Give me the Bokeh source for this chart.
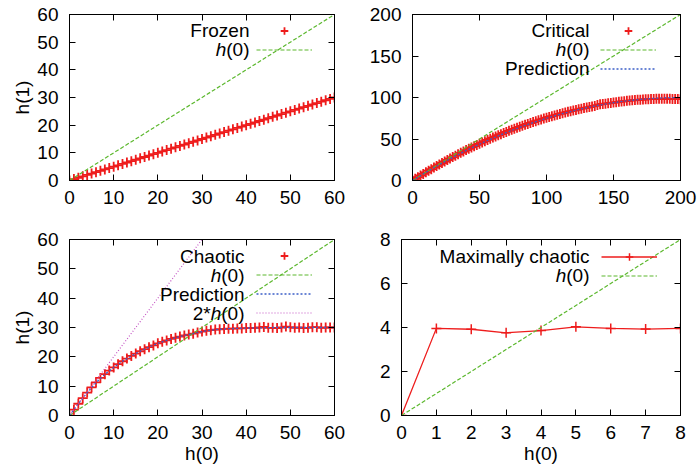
import math
from bokeh.plotting import figure
from bokeh.models import Range1d, FixedTicker, LinearAxis, Label, Legend, LegendItem
from bokeh.layouts import column, row
from bokeh.embed import file_html
from bokeh.resources import INLINE
from bokeh.core.properties import value

# ---------------- data ----------------
frozen_x = list(range(0, 61))
frozen_y = [0.0, 0.5, 1.0, 1.5, 2.0, 2.5, 3.0, 3.5, 4.0, 4.5, 5.0, 5.5, 6.0, 6.5, 7.0, 7.5,
            8.0, 8.5, 9.0, 9.5, 10.0, 10.5, 11.0, 11.5, 12.0, 12.5, 13.0, 13.5, 14.0, 14.5,
            15.0, 15.5, 16.0, 16.5, 17.0, 17.5, 18.0, 18.5, 19.0, 19.5, 20.0, 20.5, 21.0,
            21.5, 22.0, 22.5, 23.0, 23.5, 24.0, 24.5, 25.0, 25.5, 26.0, 26.5, 27.0, 27.5,
            28.0, 28.5, 29.0, 29.5, 30.0]

diag60_x = [0, 60]
diag60_y = [0, 60]
diag200_x = [0, 200]
diag200_y = [0, 200]
diag8_x = [0, 8]
diag8_y = [0, 8]
double_x = [0, 30]
double_y = [0, 60]

critical_x = list(range(0, 201, 2))
critical_y = [0.0, 2.1, 4.0, 6.0, 7.9, 9.9, 11.8, 13.7, 15.6, 17.4, 19.3, 21.1, 22.9, 24.7,
              26.4, 28.2, 29.9, 31.6, 33.3, 34.9, 36.6, 38.2, 39.8, 41.3, 42.9, 44.4, 45.9,
              47.4, 48.9, 50.3, 51.7, 53.1, 54.5, 55.8, 57.2, 58.5, 59.8, 61.0, 62.3, 63.5,
              64.7, 65.9, 67.1, 68.2, 69.3, 70.4, 71.5, 72.5, 73.6, 74.6, 75.6, 76.5, 77.5,
              78.4, 79.3, 80.2, 81.0, 81.9, 82.7, 83.5, 84.3, 85.0, 85.8, 86.5, 87.2, 87.9,
              88.5, 89.2, 89.8, 90.9, 91.8, 92.2, 92.6, 93.0, 93.5, 93.9, 94.3, 94.8, 95.2,
              95.6, 96.0, 96.3, 96.6, 96.9, 97.2, 97.4, 97.6, 97.8, 98.0, 98.1, 98.3, 98.4,
              98.4, 98.5, 98.5, 98.4, 98.4, 98.3, 98.2, 98.1, 98.0]
critical_pred_x = [0, 10, 20, 30, 40, 50, 60, 70, 80, 90, 100, 110, 120, 130, 140, 150,
                   160, 170, 180, 190, 200]
critical_pred_y = [0, 9.75, 19.0, 27.75, 36.0, 43.75, 51.0, 57.75, 64.0, 69.75, 75.0, 79.75,
                   84.0, 87.75, 91.0, 93.75, 96.0, 97.75, 99.0, 99.75, 100.0]

chaotic_x = list(range(0, 61))
chaotic_y = [0.0, 2.0, 4.0, 5.9, 7.8, 9.6, 11.3, 12.8, 14.1, 15.3, 16.4, 17.5, 18.5, 19.4,
             20.3, 21.1, 21.9, 22.6, 23.3, 23.9, 24.6, 25.1, 25.6, 26.1, 26.5, 26.9, 27.3,
             27.6, 27.9, 28.3, 28.6, 28.9, 29.1, 29.3, 29.4, 29.5, 29.6, 29.6, 29.7, 29.7,
             29.8, 29.8, 29.9, 30.0, 30.2, 29.9, 29.9, 29.8, 30.0, 30.3, 30.1, 29.9, 30.0,
             29.8, 29.9, 30.1, 30.1, 29.9, 30.0, 30.0, 30.0]
chaotic_pred_x = list(range(0, 61, 2))
chaotic_pred_y = [0.0, 4.0, 7.8, 11.2, 14.0, 16.4, 18.5, 20.3, 21.9, 23.3, 24.6, 25.6, 26.5,
                  27.3, 27.9, 28.6, 29.1, 29.4, 29.6, 29.7, 29.8, 29.9, 29.9, 30.0, 30.0,
                  30.0, 30.0, 30.0, 30.0, 30.0, 30.0]

maxchaos_x = [0, 1, 2, 3, 4, 5, 6, 7, 8]
maxchaos_y = [0.0, 3.96, 3.92, 3.76, 3.86, 4.03, 3.96, 3.93, 3.96]

ticks_60 = [0, 10, 20, 30, 40, 50, 60]
ticks_200 = [0, 50, 100, 150, 200]
ticks_x8 = [0, 1, 2, 3, 4, 5, 6, 7, 8]
ticks_y8 = [0, 2, 4, 6, 8]

# ---------------- style ----------------
FONT = "Liberation Sans"
FPX = 19
FS = "%dpx" % FPX
RED = "#ee1c1c"
GREEN = "#5cb82e"
BLUE = "#3b5fc8"
MAGENTA = "#c455c4"
ROW = 19
MS = 10
MLW = 1.8
CHAR_W = {"(": 0.333, ")": 0.333, "0": 0.556, "1": 0.556, "2": 0.556, "h": 0.556, "*": 0.389}


def text_w(s):
    return sum(CHAR_W.get(c, 0.556) for c in s) * FPX


def make_fig(width, height, xr, yr, xticks, yticks, borders, xlabel=None, ylabel=None):
    l, r, t, b = borders
    p = figure(width=width, height=height, output_backend="svg", toolbar_location=None,
               x_range=Range1d(*xr), y_range=Range1d(*yr),
               x_axis_type=None, y_axis_type=None,
               min_border_left=l, min_border_right=r, min_border_top=t, min_border_bottom=b)
    for loc, ticks, show in [("below", xticks, True), ("above", xticks, False),
                             ("left", yticks, True), ("right", yticks, False)]:
        ax = LinearAxis(ticker=FixedTicker(ticks=ticks, minor_ticks=[]))
        ax.major_tick_in = 6
        ax.major_tick_out = 0
        ax.minor_tick_line_color = None
        ax.axis_line_color = "black"
        ax.major_tick_line_color = "black"
        if show:
            ax.major_label_text_font = FONT
            ax.major_label_text_font_size = FS
            ax.major_label_text_color = "black"
            ax.major_label_standoff = 11 if loc == "left" else 10
            lab = xlabel if loc == "below" else ylabel
            if lab is not None:
                ax.axis_label = lab
                ax.axis_label_text_font = FONT
                ax.axis_label_text_font_size = FS
                ax.axis_label_text_font_style = "normal"
                ax.axis_label_text_color = "black"
                ax.axis_label_standoff = 1 if loc == "below" else 1
        else:
            ax.major_label_text_font_size = "1px"
            ax.major_label_text_color = None
            ax.major_label_standoff = 0
        p.add_layout(ax, loc)
    p.outline_line_color = "black"
    p.outline_line_width = 1
    p.background_fill_color = "white"
    p.border_fill_color = "white"
    return p


def add_key(p, frame_h, sx, tx, cy, entries):
    n = len(entries)
    top = cy - ROW / 2
    leg = Legend(items=[LegendItem(label=value(" "), renderers=r) for _, r in entries],
                 location=(sx, frame_h - (top + n * ROW)),
                 padding=0, margin=0, spacing=0, glyph_width=56, glyph_height=ROW,
                 label_standoff=0, label_width=0, label_height=0,
                 label_text_font_size="10px", label_text_color=None,
                 background_fill_alpha=0, border_line_color=None)
    p.add_layout(leg)
    for i, (pieces, _) in enumerate(entries):
        y = frame_h - (cy + i * ROW)
        x = tx
        for text, italic in reversed(pieces):
            p.add_layout(Label(x=x, y=y, x_units="screen", y_units="screen", text=text,
                               text_align="right", text_baseline="middle", text_font=FONT,
                               text_font_size=FS, text_color="black",
                               text_font_style="italic" if italic else "normal"))
            x -= text_w(text)


H0 = [("h", True), ("(0)", False)]

# ---- top-left: Frozen ----
p1 = make_fig(350, 230, (0, 60), (0, 60), ticks_60, ticks_60, (69, 16, 14, 50), ylabel="h(1)")
r1a = p1.scatter(frozen_x, frozen_y, marker="cross", size=MS, line_color=RED, line_width=MLW)
r1b = p1.line(diag60_x, diag60_y, line_color=GREEN, line_dash="4 2", line_width=1.2)
add_key(p1, 166, 187, 180, 16, [([("Frozen", False)], [r1a]), (H0, [r1b])])

# ---- top-right: Critical ----
p2 = make_fig(348, 230, (0, 200), (0, 200), ticks_200, ticks_200, (62, 18, 14, 50))
r2a = p2.scatter(critical_x, critical_y, marker="cross", size=MS, line_color=RED, line_width=MLW)
r2b = p2.line(diag200_x, diag200_y, line_color=GREEN, line_dash="4 2", line_width=1.2)
r2c = p2.line(critical_pred_x, critical_pred_y, line_color=BLUE, line_dash="2 2", line_width=1.3)
add_key(p2, 166, 188, 177, 16, [([("Critical", False)], [r2a]), (H0, [r2b]),
                                ([("Prediction", False)], [r2c])])

# ---- bottom-left: Chaotic ----
p3 = make_fig(350, 237, (0, 60), (0, 60), ticks_60, ticks_60, (69, 16, 9, 52),
              xlabel="h(0)", ylabel="h(1)")
r3a = p3.scatter(chaotic_x, chaotic_y, marker="cross", size=MS, line_color=RED, line_width=MLW)
r3b = p3.line(diag60_x, diag60_y, line_color=GREEN, line_dash="4 2", line_width=1.2)
r3c = p3.line(chaotic_pred_x, chaotic_pred_y, line_color=BLUE, line_dash="2 2", line_width=1.3)
r3d = p3.line(double_x, double_y, line_color=MAGENTA, line_dash="1 2", line_width=1.2)
add_key(p3, 176, 186.5, 175, 16.5, [([("Chaotic", False)], [r3a]), (H0, [r3b]),
                                    ([("Prediction", False)], [r3c]),
                                    ([("2*", False), ("h", True), ("(0)", False)], [r3d])])

# ---- bottom-right: Maximally chaotic ----
p4 = make_fig(348, 237, (0, 8), (0, 8), ticks_x8, ticks_y8, (51, 18, 9, 52), xlabel="h(0)")
r4a = p4.line(maxchaos_x, maxchaos_y, line_color=RED, line_width=1.3)
r4b = p4.scatter(maxchaos_x, maxchaos_y, marker="cross", size=MS, line_color=RED, line_width=1.5)
r4c = p4.line(diag8_x, diag8_y, line_color=GREEN, line_dash="4 2", line_width=1.2)
add_key(p4, 176, 199.5, 188, 17, [([("Maximally chaotic", False)], [r4a, r4b]), (H0, [r4c])])

layout = column(row(p1, p2), row(p3, p4))
open("out.html", "w").write(file_html(layout, INLINE))
